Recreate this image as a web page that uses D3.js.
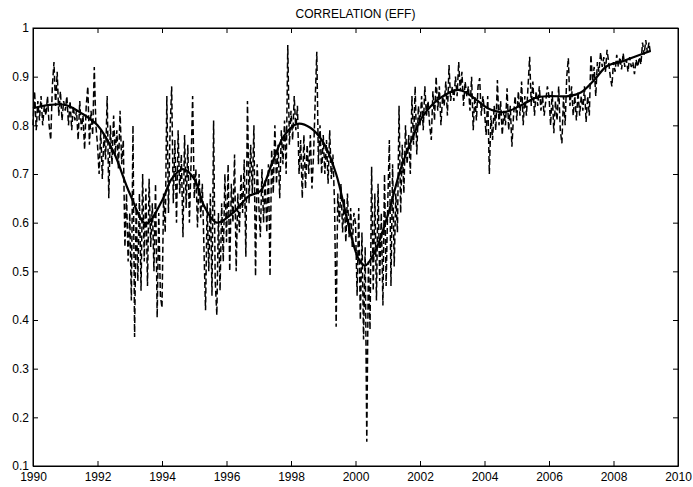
<!DOCTYPE html>
<html>
<head>
<meta charset="utf-8">
<script src="https://cdn.jsdelivr.net/npm/d3@7"></script>
<style>
  body { margin: 0; background: #fff; }
  text { font-family: Helvetica, Arial, "Liberation Sans", sans-serif; }
  .axis path, .axis line { stroke: #000; }
  .axis text { font-size: 12px; fill: #000; }
</style>
</head>
<body>
<script>
/* DATA */
var title = "CORRELATION (EFF)";
var xTicks = [1990, 1992, 1994, 1996, 1998, 2000, 2002, 2004, 2006, 2008, 2010];
var yTicks = [0.1, 0.2, 0.3, 0.4, 0.5, 0.6, 0.7, 0.8, 0.9, 1];

// raw correlation, one value every 0.05 year from 1990.0
var corrStart = 1990;
var corrStep = 0.05;
var corr1990 = [0.80, 0.87, 0.79, 0.85, 0.81, 0.86, 0.80, 0.84, 0.82, 0.86, 0.80, 0.77, 0.88, 0.93, 0.84, 0.91, 0.82, 0.87, 0.81, 0.85];
var corr1991 = [0.83, 0.86, 0.80, 0.85, 0.79, 0.84, 0.81, 0.83, 0.77, 0.85, 0.79, 0.82, 0.75, 0.84, 0.88, 0.76, 0.83, 0.78, 0.92, 0.80];
var corr1992 = [0.76, 0.70, 0.79, 0.69, 0.78, 0.73, 0.86, 0.65, 0.80, 0.72, 0.82, 0.74, 0.79, 0.71, 0.83, 0.72, 0.77, 0.55, 0.66, 0.52];
var corr1993 = [0.62, 0.44, 0.80, 0.365, 0.64, 0.48, 0.66, 0.46, 0.70, 0.52, 0.67, 0.47, 0.69, 0.55, 0.64, 0.50, 0.68, 0.405, 0.62, 0.45];
var corr1994 = [0.425, 0.66, 0.58, 0.86, 0.62, 0.79, 0.88, 0.64, 0.77, 0.60, 0.79, 0.66, 0.74, 0.57, 0.78, 0.63, 0.76, 0.60, 0.72, 0.86];
var corr1995 = [0.65, 0.71, 0.59, 0.70, 0.61, 0.68, 0.55, 0.42, 0.64, 0.50, 0.66, 0.45, 0.81, 0.48, 0.41, 0.62, 0.46, 0.64, 0.52, 0.70];
var corr1996 = [0.56, 0.72, 0.50, 0.68, 0.60, 0.74, 0.50, 0.66, 0.58, 0.70, 0.62, 0.73, 0.53, 0.85, 0.64, 0.76, 0.66, 0.80, 0.49, 0.72];
var corr1997 = [0.64, 0.57, 0.71, 0.60, 0.69, 0.58, 0.72, 0.49, 0.75, 0.66, 0.80, 0.68, 0.76, 0.65, 0.79, 0.72, 0.81, 0.70, 0.965, 0.76];
var corr1998 = [0.83, 0.77, 0.86, 0.79, 0.84, 0.70, 0.77, 0.65, 0.78, 0.67, 0.76, 0.70, 0.78, 0.67, 0.74, 0.85, 0.951, 0.72, 0.80, 0.70];
var corr1999 = [0.78, 0.70, 0.77, 0.68, 0.79, 0.69, 0.74, 0.64, 0.386, 0.66, 0.60, 0.68, 0.58, 0.65, 0.56, 0.66, 0.57, 0.63, 0.55, 0.62];
var corr2000 = [0.60, 0.45, 0.63, 0.40, 0.58, 0.36, 0.55, 0.15, 0.52, 0.38, 0.715, 0.46, 0.66, 0.44, 0.68, 0.48, 0.62, 0.43, 0.70, 0.47];
var corr2001 = [0.64, 0.77, 0.47, 0.72, 0.51, 0.66, 0.58, 0.84, 0.62, 0.76, 0.66, 0.80, 0.72, 0.78, 0.70, 0.86, 0.76, 0.88, 0.74, 0.84];
var corr2002 = [0.80, 0.86, 0.79, 0.88, 0.82, 0.85, 0.80, 0.77, 0.87, 0.81, 0.90, 0.83, 0.88, 0.80, 0.86, 0.84, 0.89, 0.82, 0.924, 0.85];
var corr2003 = [0.88, 0.85, 0.90, 0.86, 0.93, 0.87, 0.91, 0.84, 0.89, 0.86, 0.88, 0.83, 0.90, 0.79, 0.86, 0.81, 0.88, 0.897, 0.82, 0.86];
var corr2004 = [0.83, 0.78, 0.86, 0.70, 0.82, 0.77, 0.84, 0.79, 0.893, 0.80, 0.85, 0.78, 0.83, 0.80, 0.876, 0.79, 0.84, 0.756, 0.82, 0.86];
var corr2005 = [0.81, 0.87, 0.82, 0.89, 0.80, 0.86, 0.82, 0.88, 0.941, 0.84, 0.89, 0.82, 0.87, 0.84, 0.88, 0.83, 0.86, 0.82, 0.85, 0.88];
var corr2006 = [0.86, 0.80, 0.87, 0.784, 0.85, 0.81, 0.88, 0.79, 0.763, 0.86, 0.80, 0.90, 0.938, 0.84, 0.88, 0.82, 0.86, 0.81, 0.87, 0.82];
var corr2007 = [0.86, 0.83, 0.88, 0.807, 0.86, 0.82, 0.945, 0.89, 0.92, 0.86, 0.93, 0.91, 0.95, 0.92, 0.94, 0.91, 0.955, 0.93, 0.90, 0.88];
var corr2008 = [0.93, 0.91, 0.945, 0.92, 0.94, 0.915, 0.948, 0.92, 0.935, 0.91, 0.94, 0.92, 0.93, 0.905, 0.935, 0.92, 0.94, 0.925, 0.97, 0.945];
var corr2009 = [0.975, 0.95, 0.97, 0.945];

// smoothed trend
var trendYears = [1990.0, 1990.5, 1991.0, 1991.5, 1992.0, 1992.5, 1993.0, 1993.5, 1994.0, 1994.3, 1994.65, 1995.0, 1995.3, 1995.7, 1996.2, 1996.7, 1997.05, 1997.4, 1997.8, 1998.2, 1998.6, 1999.0, 1999.4, 1999.8, 2000.1, 2000.3, 2000.6, 2001.0, 2001.4, 2001.8, 2002.1, 2002.6, 2003.2, 2003.7, 2004.1, 2004.6, 2005.1, 2005.6, 2006.0, 2006.6, 2007.0, 2007.4, 2007.8, 2008.3, 2008.7, 2009.15];
var trendValues = [0.835, 0.842, 0.842, 0.825, 0.80, 0.745, 0.66, 0.598, 0.645, 0.69, 0.71, 0.69, 0.635, 0.60, 0.62, 0.655, 0.665, 0.72, 0.78, 0.803, 0.795, 0.765, 0.70, 0.59, 0.525, 0.512, 0.54, 0.615, 0.71, 0.78, 0.82, 0.855, 0.873, 0.855, 0.835, 0.827, 0.84, 0.857, 0.86, 0.86, 0.868, 0.893, 0.922, 0.932, 0.942, 0.953];

/* GLOBALS */
var margin = { top: 28, left: 33, bottom: 21, right: 15 };
var width = 693 - margin.left - margin.right;
var height = 487 - margin.top - margin.bottom;

function main () {
  var corrValues = [].concat(corr1990, corr1991, corr1992, corr1993, corr1994, corr1995, corr1996,
    corr1997, corr1998, corr1999, corr2000, corr2001, corr2002, corr2003, corr2004, corr2005,
    corr2006, corr2007, corr2008, corr2009);
  var corr = corrValues.map(function (v, i) { return { year: corrStart + i * corrStep, value: v }; });
  var trend = trendYears.map(function (t, i) { return { year: t, value: trendValues[i] }; });

  var x = d3.scaleLinear().range([0, width]).domain([1990, 2010]);
  var y = d3.scaleLinear().range([height, 0]).domain([0.1, 1]);

  var svg = d3.select('body').append('svg')
    .attr('width', 693)
    .attr('height', 487);

  var container = svg.append('g')
    .attr('transform', 'translate(' + margin.left + ',' + margin.top + ')');

  // title
  svg.append('text')
    .attr('x', margin.left + width / 2)
    .attr('y', 18)
    .attr('text-anchor', 'middle')
    .style('font-size', '12px')
    .text(title);

  var line = d3.line()
    .x(function (d) { return x(d.year); })
    .y(function (d) { return y(d.value); });

  // noisy series, dashed
  container.append('path')
    .datum(corr)
    .attr('fill', 'none')
    .attr('stroke', '#000')
    .attr('stroke-width', 1.5)
    .attr('stroke-dasharray', '6,3')
    .attr('d', line);

  // trend, solid
  container.append('path')
    .datum(trend)
    .attr('fill', 'none')
    .attr('stroke', '#000')
    .attr('stroke-width', 2.2)
    .attr('d', line.curve(d3.curveCatmullRom.alpha(0.5)));

  // axes, ticks pointing in
  container.append('g')
    .attr('class', 'axis')
    .attr('transform', 'translate(0,' + height + ')')
    .call(d3.axisBottom(x).tickValues(xTicks).tickFormat(function (d) { return d; })
      .tickSizeInner(-5).tickSizeOuter(0).tickPadding(6));
  container.append('g')
    .attr('class', 'axis')
    .call(d3.axisTop(x).tickValues(xTicks).tickFormat('')
      .tickSizeInner(-5).tickSizeOuter(0));
  container.append('g')
    .attr('class', 'axis')
    .call(d3.axisLeft(y).tickValues(yTicks).tickFormat(function (d) { return d; })
      .tickSizeInner(-5).tickSizeOuter(0).tickPadding(4));
  container.append('g')
    .attr('class', 'axis')
    .attr('transform', 'translate(' + width + ',0)')
    .call(d3.axisRight(y).tickValues(yTicks).tickFormat('')
      .tickSizeInner(-5).tickSizeOuter(0));

  container.append('rect')
    .attr('width', width)
    .attr('height', height)
    .attr('fill', 'none')
    .attr('stroke', '#000')
    .attr('stroke-width', 1);
}

window.addEventListener('load', main);
</script>
</body>
</html>
